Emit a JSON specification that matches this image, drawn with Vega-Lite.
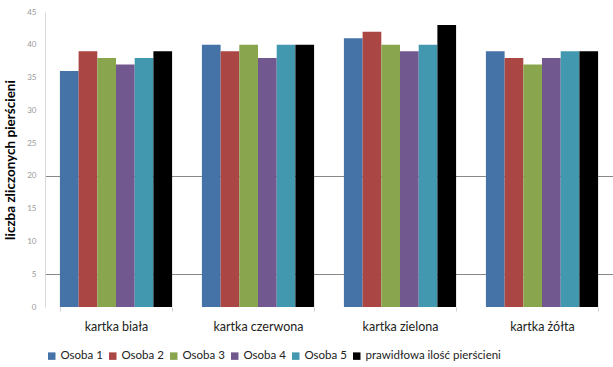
{
  "$schema": "https://vega.github.io/schema/vega-lite/v6.json",
  "autosize": "none",
  "width": 568,
  "height": 295,
  "padding": {"left": 45, "right": 0, "top": 12, "bottom": 60},
  "background": "white",
  "config": {"view": {"stroke": null}, "font": "Lato"},
  "data": {"values": [
    {"k": "kartka biała", "s": "Osoba 1", "v": 36},
    {"k": "kartka biała", "s": "Osoba 2", "v": 39},
    {"k": "kartka biała", "s": "Osoba 3", "v": 38},
    {"k": "kartka biała", "s": "Osoba 4", "v": 37},
    {"k": "kartka biała", "s": "Osoba 5", "v": 38},
    {"k": "kartka biała", "s": "prawidłowa ilość pierścieni", "v": 39},
    {"k": "kartka czerwona", "s": "Osoba 1", "v": 40},
    {"k": "kartka czerwona", "s": "Osoba 2", "v": 39},
    {"k": "kartka czerwona", "s": "Osoba 3", "v": 40},
    {"k": "kartka czerwona", "s": "Osoba 4", "v": 38},
    {"k": "kartka czerwona", "s": "Osoba 5", "v": 40},
    {"k": "kartka czerwona", "s": "prawidłowa ilość pierścieni", "v": 40},
    {"k": "kartka zielona", "s": "Osoba 1", "v": 41},
    {"k": "kartka zielona", "s": "Osoba 2", "v": 42},
    {"k": "kartka zielona", "s": "Osoba 3", "v": 40},
    {"k": "kartka zielona", "s": "Osoba 4", "v": 39},
    {"k": "kartka zielona", "s": "Osoba 5", "v": 40},
    {"k": "kartka zielona", "s": "prawidłowa ilość pierścieni", "v": 43},
    {"k": "kartka żółta", "s": "Osoba 1", "v": 39},
    {"k": "kartka żółta", "s": "Osoba 2", "v": 38},
    {"k": "kartka żółta", "s": "Osoba 3", "v": 37},
    {"k": "kartka żółta", "s": "Osoba 4", "v": 38},
    {"k": "kartka żółta", "s": "Osoba 5", "v": 39},
    {"k": "kartka żółta", "s": "prawidłowa ilość pierścieni", "v": 39}
  ]},
  "mark": {"type": "bar"},
  "encoding": {
    "x": {
      "field": "k", "type": "nominal", "sort": null,
      "scale": {"paddingInner": 0.21, "paddingOuter": 0.105},
      "axis": {
        "title": null, "labelAngle": 0, "domain": false,
        "tickBand": "extent", "tickColor": "#d0d0d0", "tickSize": 4,
        "labelFontSize": 12.5, "labelColor": "#222", "labelPadding": 9,
        "labelFont": "Lato"
      }
    },
    "xOffset": {"field": "s", "type": "nominal", "sort": null},
    "y": {
      "field": "v", "type": "quantitative",
      "scale": {"domain": [0, 45], "nice": false},
      "axis": {
        "title": "liczba zliczonych pierścieni",
        "titleFontSize": 13.5, "titleFontWeight": "bold", "titleColor": "#000",
        "titlePadding": 9,
        "values": [0, 5, 10, 15, 20, 25, 30, 35, 40, 45],
        "labelFontSize": 8, "labelColor": "#999", "labelPadding": 9,
        "ticks": false,
        "domainColor": "#d9d9d9",
        "grid": true,
        "gridColor": "#888",
        "gridOpacity": {"condition": {"test": "datum.value == 5 || datum.value == 20", "value": 1}, "value": 0}
      }
    },
    "color": {
      "field": "s", "type": "nominal", "sort": null,
      "scale": {
        "domain": ["Osoba 1", "Osoba 2", "Osoba 3", "Osoba 4", "Osoba 5", "prawidłowa ilość pierścieni"],
        "range": ["#4572A7", "#AA4643", "#89A54E", "#71588F", "#4198AF", "#000000"]
      },
      "legend": {
        "title": null, "orient": "none", "direction": "horizontal",
        "legendX": 1, "legendY": 338,
        "symbolType": "square", "symbolSize": 56, "symbolStrokeWidth": 0,
        "labelFont": "Lato",
        "labelFontSize": 11.5, "labelColor": "#222", "columnPadding": 4,
        "labelOffset": 3
      }
    }
  }
}
